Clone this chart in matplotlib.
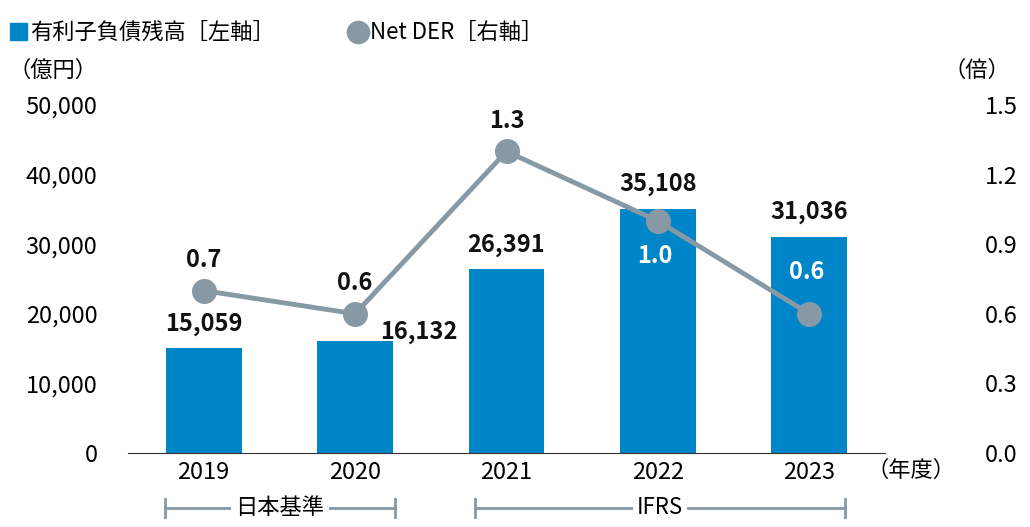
import matplotlib
matplotlib.use("Agg")
import matplotlib.pyplot as plt

plt.rcParams['font.family'] = ['Noto Sans CJK JP', 'DejaVu Sans']

years = ["2019", "2020", "2021", "2022", "2023"]
debt = [15059, 16132, 26391, 35108, 31036]
der = [0.7, 0.6, 1.3, 1.0, 0.6]
debt_labels = ["15,059", "16,132", "26,391", "35,108", "31,036"]
der_labels = ["0.7", "0.6", "1.3", "1.0", "0.6"]

bar_c = "#0085c8"
line_c = "#8899a6"

fig = plt.figure(figsize=(10.30, 5.27), dpi=100)
ax = fig.add_axes([128/1030, 1-453/527, (885-128)/1030, (453-105)/527])
x = list(range(len(years)))
ax.bar(x, debt, width=0.5, color=bar_c, zorder=2)
ax.set_xlim(-0.5, 4.5)
ax.set_ylim(0, 50000)
ax.set_yticks(range(0, 50001, 10000))
ax.set_yticklabels([f"{v:,}" for v in range(0, 50001, 10000)], fontsize=17)
ax.set_xticks(x)
ax.set_xticklabels(years, fontsize=17)
for s in ["top", "left", "right"]:
    ax.spines[s].set_visible(False)
ax.spines["bottom"].set_color("#333333")
ax.tick_params(axis='y', length=0, pad=22)
ax.tick_params(axis='x', length=0, pad=6)

ax2 = ax.twinx()
ax2.set_ylim(0, 1.5)
ax2.set_yticks([0, 0.3, 0.6, 0.9, 1.2, 1.5])
ax2.set_yticklabels(["0.0", "0.3", "0.6", "0.9", "1.2", "1.5"], fontsize=17)
ax2.tick_params(axis='y', length=0, pad=72)
for s in ["top", "left", "right", "bottom"]:
    ax2.spines[s].set_visible(False)
ax2.plot(x, der, color=line_c, lw=3.5, marker='o', ms=17, zorder=3)

# bar labels (drawn on top axes so the line does not hide them)
offs = [(0, 1800), (0.42, -400), (0, 1800), (0, 1800), (0, 1800)]
for i, (dx, dy) in enumerate(offs):
    ax2.text(i + dx, debt[i] + dy, debt_labels[i], ha='center', va='bottom',
             fontsize=17, fontweight='bold', color='#111111', zorder=5,
             transform=ax.transData)
# der labels
for i in range(5):
    if i < 3:
        ax2.text(i, der[i] + 0.08, der_labels[i], ha='center', va='bottom',
                 fontsize=17, fontweight='bold', color='#111111', zorder=5)
    elif i == 3:
        ax2.text(i - 0.02, der[i] - 0.15, der_labels[i], ha='center', va='center',
                 fontsize=17, fontweight='bold', color='white', zorder=6)
    else:
        ax2.text(i - 0.02, der[i] + 0.13, der_labels[i], ha='center', va='bottom',
                 fontsize=17, fontweight='bold', color='white', zorder=6)

# unit labels
fig.text(98/1030, 1-70/527, "（億円）", ha='right', va='center', fontsize=16)
fig.text(1010/1030, 1-70/527, "（倍）", ha='right', va='center', fontsize=16)
fig.text(955/1030, 1-470/527, "（年度）", ha='right', va='center', fontsize=16)

# legend
fig.patches.append(plt.Rectangle((10/1030, 1-40/527), 17/1030, 17/527,
                                 transform=fig.transFigure, color=bar_c))
fig.text(30/1030, 1-32/527, "有利子負債残高［左軸］", va='center', fontsize=16)
fig.add_artist(matplotlib.lines.Line2D([358/1030], [1-32/527], marker='o', ms=16,
                                       color=line_c, transform=fig.transFigure))
fig.text(370/1030, 1-32/527, "Net DER［右軸］", va='center', fontsize=16)

# bracket groups
def bracket(x0, x1, label, y=508):
    yf = 1 - y/527
    fig.add_artist(matplotlib.lines.Line2D([x0/1030, x1/1030], [yf, yf],
                   color=line_c, lw=2, transform=fig.transFigure))
    for xx in (x0, x1):
        fig.add_artist(matplotlib.lines.Line2D([xx/1030, xx/1030], [yf-9/527, yf+9/527],
                       color=line_c, lw=2, transform=fig.transFigure))
    fig.text((x0+x1)/2/1030, yf, label, ha='center', va='center', fontsize=16,
             bbox=dict(facecolor='white', edgecolor='none', pad=3))

bracket(165, 395, "日本基準")
bracket(475, 845, "IFRS")

fig.savefig("out.png", dpi=100)
